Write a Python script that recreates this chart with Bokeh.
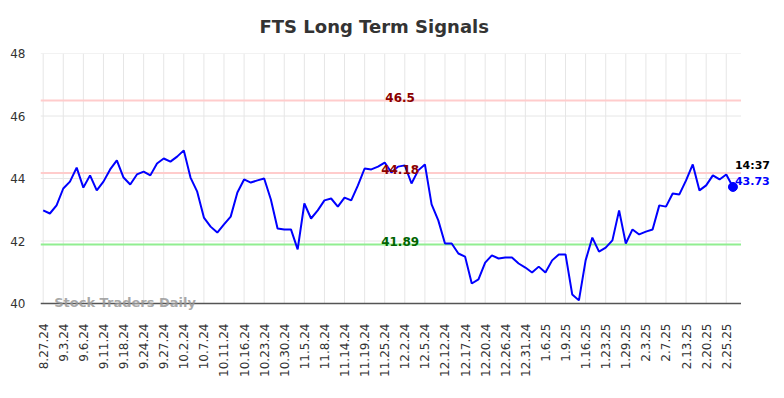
from bokeh.plotting import figure
from bokeh.models import FixedTicker, Range1d, ColumnDataSource, Label
from bokeh.core.properties import value
from bokeh.embed import file_html
from bokeh.resources import INLINE
import math

# ---- data ----
tick_labels = ["8.27.24", "9.3.24", "9.6.24", "9.11.24", "9.18.24", "9.24.24", "9.27.24",
               "10.2.24", "10.7.24", "10.11.24", "10.16.24", "10.23.24", "10.30.24",
               "11.5.24", "11.8.24", "11.14.24", "11.19.24", "11.25.24", "12.2.24",
               "12.5.24", "12.12.24", "12.17.24", "12.20.24", "12.26.24", "12.31.24",
               "1.6.25", "1.9.25", "1.16.25", "1.23.25", "1.29.25", "2.3.25", "2.7.25",
               "2.13.25", "2.20.25", "2.25.25"]
tick_step = 3

prices = [42.98, 42.88, 43.14, 43.68, 43.90, 44.35, 43.71, 44.10, 43.62, 43.90,
          44.29, 44.58, 44.03, 43.81, 44.13, 44.22, 44.10, 44.48, 44.64, 44.54,
          44.70, 44.90, 44.03, 43.58, 42.75, 42.46, 42.27, 42.53, 42.78, 43.55,
          43.97, 43.87, 43.94, 44.00, 43.33, 42.40, 42.37, 42.37, 41.73, 43.20,
          42.72, 42.98, 43.30, 43.36, 43.10, 43.39, 43.30, 43.78, 44.32, 44.29,
          44.38, 44.51, 44.19, 44.38, 44.42, 43.84, 44.26, 44.45, 43.17, 42.66,
          41.92, 41.92, 41.60, 41.50, 40.64, 40.77, 41.31, 41.54, 41.44, 41.47,
          41.47, 41.28, 41.15, 40.99, 41.18, 40.99, 41.38, 41.57, 41.57, 40.29,
          40.10, 41.38, 42.11, 41.66, 41.79, 42.02, 42.98, 41.92, 42.37, 42.21,
          42.30, 42.37, 43.14, 43.10, 43.52, 43.49, 43.94, 44.45, 43.62, 43.78,
          44.10, 43.97, 44.13, 43.73]

upper_level = 46.5
mid_level = 44.18
lower_level = 41.89
last_time = "14:37"
y_ticks = [40, 42, 44, 46, 48]

# ---- figure ----
idx = list(range(len(prices)))
src = ColumnDataSource(dict(x=idx, y=prices))
tick_pos = [i * tick_step for i in range(len(tick_labels))]

x_lo, x_hi = -0.4, 104.2          # visible data area (grid/levels extent)
y_lo, y_hi = y_ticks[0], y_ticks[-1]

# frame extends past the data area so that outside texts are not clipped
p = figure(width=780, height=394, output_backend="svg", toolbar_location=None,
           x_range=Range1d(x_lo, 110.1), y_range=Range1d(39.712, y_hi),
           min_border_left=40, min_border_right=0, min_border_top=53,
           min_border_bottom=82, title="FTS Long Term Signals")
p.outline_line_color = None
p.background_fill_color = "white"
p.border_fill_color = "white"
p.grid.visible = False

p.title.align = "left"
p.title.offset = 219
p.title.vertical_align = "top"
p.title.text_font = "DejaVu Sans"
p.title.text_font_size = "18px"
p.title.text_font_style = "bold"
p.title.text_color = "#333333"
p.title.standoff = 29

# grid lines drawn from tick arrays over the data area only
p.segment(x0=tick_pos, x1=tick_pos, y0=[y_lo] * len(tick_pos), y1=[y_hi] * len(tick_pos),
          line_color="#e6e6e6", line_width=1)
p.segment(x0=[x_lo] * len(y_ticks), x1=[x_hi] * len(y_ticks), y0=y_ticks, y1=y_ticks,
          line_color="#e6e6e6", line_width=1)

# axes
p.xaxis.ticker = FixedTicker(ticks=tick_pos)
p.xaxis.major_label_overrides = {t: lab for t, lab in zip(tick_pos, tick_labels)}
p.xaxis.major_label_orientation = math.pi / 2
p.xaxis.major_tick_out = 0
p.xaxis.major_tick_in = 0
p.xaxis.minor_tick_out = 0
p.xaxis.minor_tick_in = 0
p.xaxis.major_label_standoff = 11
p.xaxis.axis_line_color = None
p.xaxis.major_label_text_font = "DejaVu Sans"
p.xaxis.major_label_text_font_size = "12px"
p.xaxis.major_label_text_color = "#333333"

p.yaxis.ticker = FixedTicker(ticks=y_ticks)
p.yaxis.axis_line_color = None
p.yaxis.major_tick_out = 0
p.yaxis.major_tick_in = 0
p.yaxis.minor_tick_out = 0
p.yaxis.minor_tick_in = 0
p.yaxis.major_label_standoff = 15
p.yaxis.major_label_text_font = "DejaVu Sans"
p.yaxis.major_label_text_font_size = "12px"
p.yaxis.major_label_text_color = "#333333"

# baseline (x axis line) at the lowest y tick
p.line([x_lo, x_hi], [y_lo, y_lo], line_color="#555555", line_width=1.5)

# horizontal levels
xs_full = [x_lo, x_hi]
p.line(xs_full, [upper_level] * 2, line_color="#ffcccc", line_width=2)
p.line(xs_full, [mid_level] * 2, line_color="#ffcccc", line_width=2)
p.line(xs_full, [lower_level] * 2, line_color="#90ee90", line_width=2)

# price line
p.line("x", "y", source=src, line_color="#0000ff", line_width=2)
p.scatter([idx[-1]], [prices[-1]], size=9, color="#0000ff")

# level labels
lab_x = 53.3
p.text([lab_x], [upper_level], text=[str(upper_level)], text_align="center",
       text_baseline="alphabetic", y_offset=-3, text_font=value("DejaVu Sans"),
       text_font_size="12px", text_font_style="bold", text_color="#8b0000")
p.text([lab_x], [mid_level], text=[f"{mid_level:.2f}"], text_align="center",
       text_baseline="alphabetic", y_offset=-3, text_font=value("DejaVu Sans"),
       text_font_size="12px", text_font_style="bold", text_color="#8b0000")
p.text([lab_x], [lower_level], text=[f"{lower_level:.2f}"], text_align="center",
       text_baseline="alphabetic", y_offset=-3, text_font=value("DejaVu Sans"),
       text_font_size="12px", text_font_style="bold", text_color="#006400")

# last value labels
p.text([idx[-1]], [prices[-1]], text=[last_time], text_align="left",
       text_baseline="alphabetic", x_offset=2, y_offset=-21, text_font=value("DejaVu Sans"),
       text_font_size="11px", text_font_style="bold", text_color="#000000")
p.text([idx[-1]], [prices[-1]], text=[f"{prices[-1]:.2f}"], text_align="left",
       text_baseline="alphabetic", x_offset=2, y_offset=-6, text_font=value("DejaVu Sans"),
       text_font_size="11px", text_font_style="bold", text_color="#0000ff")

# watermark
p.add_layout(Label(x=1.64, y=40.03, text="Stock Traders Daily", text_align="left",
                   text_baseline="middle", text_font="DejaVu Sans", text_font_size="13px",
                   text_font_style="bold", text_color="#999999", text_alpha=0.85))

open("out.html", "w").write(file_html(p, INLINE))
